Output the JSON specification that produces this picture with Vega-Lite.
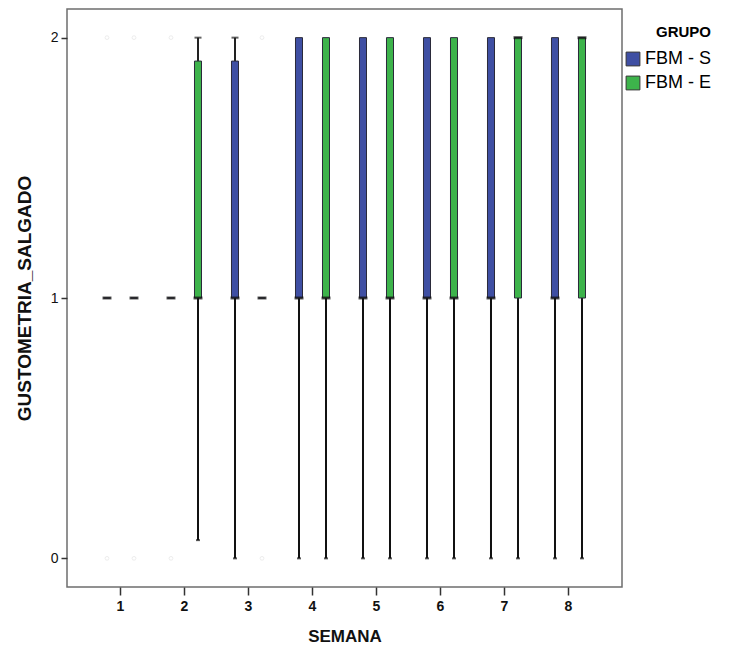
{
  "$schema": "https://vega.github.io/schema/vega-lite/v6.json",
  "width": 555,
  "height": 578,
  "autosize": {"type": "none"},
  "padding": {"left": 67, "top": 9, "right": 119, "bottom": 69},
  "background": "white",
  "config": {
    "font": "Liberation Sans",
    "view": {"stroke": "#6e6e6e", "strokeWidth": 1.5},
    "axis": {"grid": false, "domain": false, "tickColor": "#333", "labelColor": "#111", "titleColor": "#111"}
  },
  "datasets": {
    "boxes": [
      {"week": 1, "grupo": "FBM - S", "min": 1, "q1": 1, "median": 1, "q3": 1, "max": 1},
      {"week": 1, "grupo": "FBM - E", "min": 1, "q1": 1, "median": 1, "q3": 1, "max": 1},
      {"week": 2, "grupo": "FBM - S", "min": 1, "q1": 1, "median": 1, "q3": 1, "max": 1},
      {"week": 2, "grupo": "FBM - E", "min": 0.07, "q1": 1, "median": 1, "q3": 1.91, "max": 2},
      {"week": 3, "grupo": "FBM - S", "min": 0, "q1": 1, "median": 1, "q3": 1.91, "max": 2},
      {"week": 3, "grupo": "FBM - E", "min": 1, "q1": 1, "median": 1, "q3": 1, "max": 1},
      {"week": 4, "grupo": "FBM - S", "min": 0, "q1": 1, "median": 1, "q3": 2, "max": 2},
      {"week": 4, "grupo": "FBM - E", "min": 0, "q1": 1, "median": 1, "q3": 2, "max": 2},
      {"week": 5, "grupo": "FBM - S", "min": 0, "q1": 1, "median": 1, "q3": 2, "max": 2},
      {"week": 5, "grupo": "FBM - E", "min": 0, "q1": 1, "median": 1, "q3": 2, "max": 2},
      {"week": 6, "grupo": "FBM - S", "min": 0, "q1": 1, "median": 1, "q3": 2, "max": 2},
      {"week": 6, "grupo": "FBM - E", "min": 0, "q1": 1, "median": 1, "q3": 2, "max": 2},
      {"week": 7, "grupo": "FBM - S", "min": 0, "q1": 1, "median": 1, "q3": 2, "max": 2},
      {"week": 7, "grupo": "FBM - E", "min": 0, "q1": 1, "median": 2, "q3": 2, "max": 2},
      {"week": 8, "grupo": "FBM - S", "min": 0, "q1": 1, "median": 1, "q3": 2, "max": 2},
      {"week": 8, "grupo": "FBM - E", "min": 0, "q1": 1, "median": 2, "q3": 2, "max": 2}
    ],
    "outliers": [
      {"week": 1, "grupo": "FBM - S", "value": 0},
      {"week": 1, "grupo": "FBM - S", "value": 2},
      {"week": 1, "grupo": "FBM - E", "value": 0},
      {"week": 1, "grupo": "FBM - E", "value": 2},
      {"week": 2, "grupo": "FBM - S", "value": 0},
      {"week": 2, "grupo": "FBM - S", "value": 2},
      {"week": 3, "grupo": "FBM - E", "value": 0},
      {"week": 3, "grupo": "FBM - E", "value": 2}
    ]
  },
  "data": {"name": "boxes"},
  "encoding": {
    "x": {
      "field": "week", "type": "ordinal",
      "scale": {"paddingInner": 0.2, "paddingOuter": 0.436},
      "axis": {"title": "SEMANA", "labelAngle": 0, "labelFontWeight": "bold", "labelFontSize": 14, "tickSize": 8, "tickWidth": 1.5, "labelPadding": 4, "titleFontSize": 17, "titleFontWeight": "bold", "titlePadding": 15}
    },
    "xOffset": {
      "field": "grupo", "type": "nominal",
      "scale": {"domain": ["FBM - S", "FBM - E"], "paddingInner": 0.74, "paddingOuter": 0.318}
    }
  },
  "layer": [
    {
      "data": {"name": "outliers"},
      "mark": {"type": "point", "shape": "circle", "size": 14, "filled": false, "color": "#e6e6e6", "strokeWidth": 1},
      "encoding": {
        "y": {"field": "value", "type": "quantitative"}
      }
    },
    {
      "transform": [{"filter": "datum.min < datum.q1"}],
      "mark": {"type": "rule", "color": "#111", "strokeWidth": 2},
      "encoding": {
        "y": {"field": "min", "type": "quantitative"},
        "y2": {"field": "q1"}
      }
    },
    {
      "transform": [{"filter": "datum.max > datum.q3"}],
      "mark": {"type": "rule", "color": "#222", "strokeWidth": 2},
      "encoding": {
        "y": {"field": "q3", "type": "quantitative"},
        "y2": {"field": "max"}
      }
    },
    {
      "transform": [{"filter": "datum.min < datum.q1"}],
      "mark": {"type": "tick", "color": "#111", "thickness": 2, "size": 4},
      "encoding": {
        "y": {"field": "min", "type": "quantitative"}
      }
    },
    {
      "transform": [{"filter": "datum.max > datum.q3 && datum.q3 < 2"}],
      "mark": {"type": "tick", "color": "#222", "thickness": 2, "size": 7},
      "encoding": {
        "y": {"field": "max", "type": "quantitative"}
      }
    },
    {
      "mark": {"type": "bar", "stroke": "#2a2a3a", "strokeWidth": 1},
      "encoding": {
        "y": {
          "field": "q1", "type": "quantitative",
          "scale": {"domain": [-0.11, 2.11], "nice": false, "zero": false},
          "axis": {"title": "GUSTOMETRIA_SALGADO", "values": [0, 1, 2], "format": "d", "labelFontSize": 14, "tickSize": 6, "tickWidth": 1.5, "labelPadding": 3, "titleFontSize": 19, "titleFontWeight": "bold", "titlePadding": 16}
        },
        "y2": {"field": "q3"},
        "color": {
          "field": "grupo", "type": "nominal",
          "scale": {"domain": ["FBM - S", "FBM - E"], "range": ["#3f4fa3", "#3db34b"]},
          "legend": {
            "title": "GRUPO", "orient": "none", "legendX": 557, "legendY": 16,
            "titleFontSize": 15, "titleFontWeight": "bold", "titleAnchor": "end", "titlePadding": 10,
            "labelFontSize": 18, "labelFont": "Liberation Sans", "symbolType": "square", "symbolSize": 190,
            "symbolStrokeColor": "#333", "symbolStrokeWidth": 1, "symbolOpacity": 1, "rowPadding": 6, "labelOffset": 3
          }
        }
      }
    },
    {
      "mark": {"type": "tick", "color": "#111", "thickness": 3, "size": 9},
      "encoding": {
        "y": {"field": "median", "type": "quantitative"}
      }
    }
  ]
}
